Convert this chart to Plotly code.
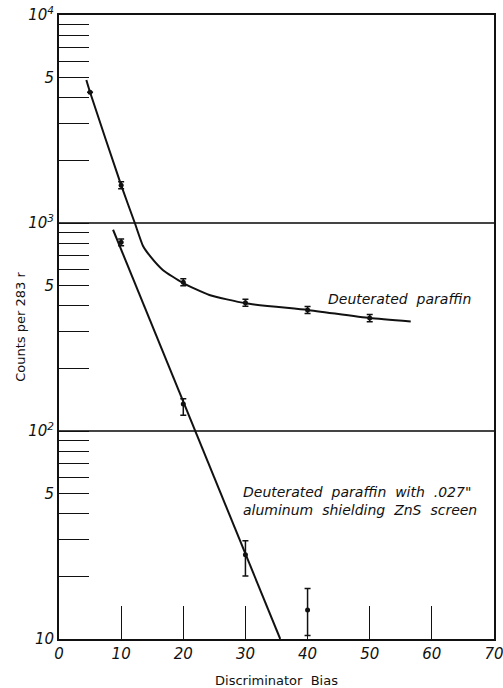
import plotly.graph_objects as go

# ---- data ----
# Deuterated paraffin (measured points)
dp_x = [5, 10, 20, 30, 40, 50]
dp_y = [4250, 1520, 519, 414, 382, 349]
dp_err = [0, 60, 20, 16, 15, 14]
# Deuterated paraffin (hand-drawn curve)
dp_curve_x = [4.4, 5.0, 10.0, 12.2, 13.5, 14.6, 16.7, 19.9, 24.2, 30.0, 40.0, 50.0, 56.6]
dp_curve_y = [4870, 4250, 1520, 1000, 778, 697, 595, 516, 451, 411, 382, 349, 336]

# Deuterated paraffin with .027" aluminum shielding ZnS screen
al_x = [10, 20, 30, 40]
al_y = [807, 135, 25.4, 13.8]
al_err_plus = [30, 8, 4.3, 3.7]
al_err_minus = [30, 16, 5.3, 3.4]
al_curve_x = [8.7, 35.6]
al_curve_y = [928, 10]

# ---- axis ticks ----
x_tick_vals = [0, 10, 20, 30, 40, 50, 60, 70]
x_tick_text = ["0", "10", "20", "30", "40", "50", "60", "70"]
y_label_vals = [10, 50, 100, 500, 1000, 5000, 10000]
y_label_text = ["10", "5", "10<sup>2</sup>", "5", "10<sup>3</sup>", "5", "10<sup>4</sup>"]
y_minor_vals = [20, 30, 40, 60, 70, 80, 90,
                200, 300, 400, 600, 700, 800, 900,
                2000, 3000, 4000, 6000, 7000, 8000, 9000]
y_grid_vals = [100, 1000]

label_dp = "Deuterated  paraffin"
label_al = "Deuterated  paraffin  with  .027\"<br>aluminum  shielding  ZnS  screen"
x_title = "Discriminator  Bias"
y_title = "Counts per 283 r"

INK = "#111111"
tick_font = dict(family="DejaVu Sans", size=15, color=INK, style="italic")

fig = go.Figure()

fig.add_trace(go.Scatter(x=dp_curve_x, y=dp_curve_y, mode="lines",
                         line=dict(color=INK, width=2, shape="spline", smoothing=0.5),
                         hoverinfo="skip", showlegend=False))
fig.add_trace(go.Scatter(x=dp_x, y=dp_y, mode="markers",
                         marker=dict(color=INK, size=5),
                         error_y=dict(type="data", array=dp_err, color=INK,
                                      thickness=1.5, width=3),
                         showlegend=False))
fig.add_trace(go.Scatter(x=al_curve_x, y=al_curve_y, mode="lines", yaxis="y2",
                         line=dict(color=INK, width=2),
                         hoverinfo="skip", showlegend=False))
fig.add_trace(go.Scatter(x=al_x, y=al_y, mode="markers",
                         marker=dict(color=INK, size=5),
                         error_y=dict(type="data", symmetric=False, array=al_err_plus,
                                      arrayminus=al_err_minus, color=INK,
                                      thickness=1.5, width=3),
                         showlegend=False))

fig.add_annotation(x=42.9, y=2.635, xref="x", yref="y", text=label_dp,
                   showarrow=False, xanchor="left", yanchor="middle",
                   font=dict(family="DejaVu Sans", size=14, color=INK, style="italic"))
fig.add_annotation(x=29.3, y=1.663, xref="x", yref="y", text=label_al,
                   showarrow=False, xanchor="left", yanchor="middle", align="left",
                   font=dict(family="DejaVu Sans", size=14, color=INK, style="italic"))

fig.update_layout(
    width=503, height=688,
    margin=dict(l=59, r=9, t=15, b=49),
    paper_bgcolor="white", plot_bgcolor="white",
    showlegend=False,
    xaxis=dict(range=[0, 70], tickvals=x_tick_vals, ticktext=x_tick_text,
               ticks="inside", ticklen=33, tickwidth=1.2, tickcolor=INK,
               ticklabeloverflow="allow", automargin=False,
               showline=True, linecolor=INK, linewidth=2, mirror=True,
               showgrid=False, zeroline=False, tickfont=tick_font,
               title=dict(text=x_title, standoff=20,
                          font=dict(family="DejaVu Sans", size=13, color=INK))),
    yaxis=dict(type="log", range=[1, 4], tickvals=y_label_vals, ticktext=y_label_text,
               ticks="inside", ticklen=30, tickwidth=1.3, tickcolor=INK,
               ticklabeloverflow="allow", automargin=False,
               minor=dict(tickmode="array", tickvals=y_minor_vals, ticks="inside",
                          ticklen=30, tickwidth=1.3, tickcolor=INK, showgrid=False),
               showline=True, linecolor=INK, linewidth=2, mirror=True,
               showgrid=False, zeroline=False, tickfont=tick_font,
               title=dict(text=y_title, standoff=0,
                          font=dict(family="DejaVu Sans", size=13, color=INK))),
    yaxis2=dict(type="log", range=[1, 4], overlaying="y", side="left",
                tickvals=y_grid_vals, showticklabels=False, ticks="",
                showgrid=True, gridcolor="#444444", gridwidth=1.5,
                showline=False, zeroline=False, automargin=False),
)

fig.write_html("out.html")
